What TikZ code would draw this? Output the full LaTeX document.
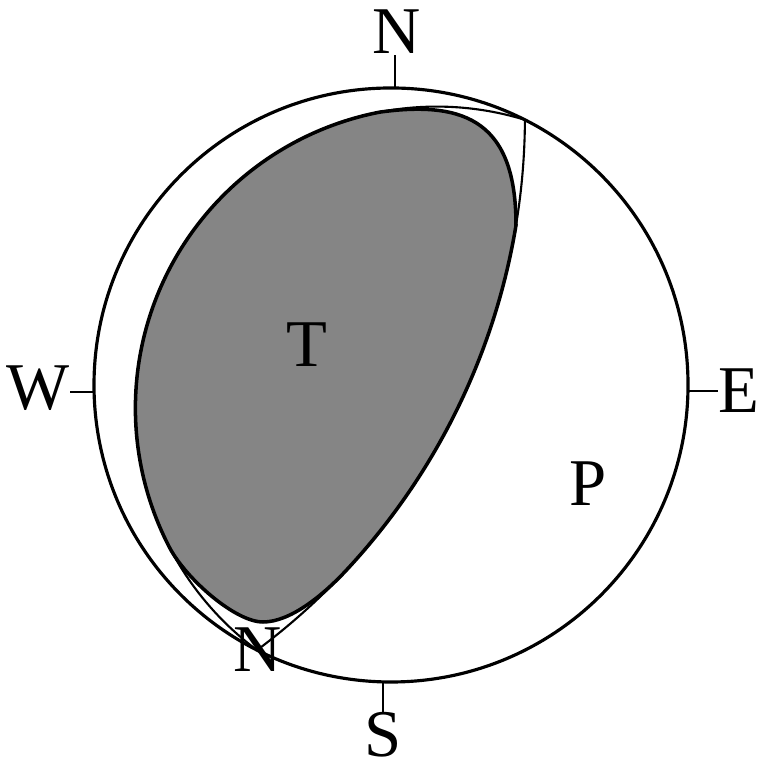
\documentclass[tikz,border=0pt]{standalone}
\usepackage{fontspec}
\setmainfont{Liberation Serif}
\usetikzlibrary{calc}

\begin{document}
\begin{tikzpicture}
    % Colores y estilos
    \colorlet{tcolor}{black!48}
    \tikzset{
        letra/.style={font=\fontsize{19}{21}\selectfont, inner sep=0pt},
        plano/.style={line width=0.6pt},
        marca/.style={line width=0.6pt}
    }
    \def\R{2.97}

    % Marco
    \useasboundingbox (0,0) rectangle (7.63,7.66);

    % Centro y puntos cardinales
    \coordinate (O) at (3.91,3.81);
    \coordinate (cN) at ($(O)+(89.2:\R)$);
    \coordinate (cS) at ($(O)+(268.46:\R)$);
    \coordinate (cW) at ($(O)+(181.35:\R)$);
    \coordinate (cE) at ($(O)+(358.84:\R)$);

    % Centros de los planos nodales
    \coordinate (CA) at ($(O)+(333.2:0.514)$);
    \coordinate (CB) at ($(O)+(153.2:5.951)$);

    % Cuadrante de tension
    \draw[line width=1pt, fill=tcolor] ($(CA)+(100.88:3.015)$)
        arc[start angle=100.88, end angle=207.47, radius=3.015] coordinate (Q2)
        .. controls ($(Q2)+(297.47:0.35)$) and (2.35,1.44) .. (2.63,1.44)
        .. controls (2.90,1.44) and ($(CB)+(-43:6.651)+(227:0.35)$) .. ($(CB)+(-43:6.651)$)
        arc[start angle=-43, end angle=-9.4, radius=6.651] coordinate (Q4)
        .. controls (5.16,6.42) and (4.68,6.66) .. cycle;

    % Planos nodales
    \draw[plano] ($(CA)+(73.03:3.015)$) arc[start angle=73.03, end angle=233.38, radius=3.015];
    \draw[plano] ($(CB)+(-0.27:6.651)$) arc[start angle=-0.27, end angle=-53.33, radius=6.651];

    % Circulo
    \draw[line width=0.9pt] (O) circle (\R);

    % Letras
    \node[letra] (nlab) at (3.97,7.34) {N};
    \node[letra] (slab) at (3.83,0.31) {S};
    \node[letra] (wlab) at (0.38,3.78) {W};
    \node[letra] (elab) at (7.39,3.75) {E};
    \node[letra] (tlab) at (3.07,4.21) {T};
    \node[letra] (plab) at (5.88,2.82) {P};
    \node[letra] (nulo) at (2.58,1.16) {N};

    % Marcas
    \draw[marca] (cN) -- (cN |- nlab.south);
    \draw[marca] (cS) -- (cS |- slab.north);
    \draw[marca] (cW) -- (cW -| wlab.east);
    \draw[marca] (cE) -- (cE -| elab.west);

\end{tikzpicture}
\end{document}
